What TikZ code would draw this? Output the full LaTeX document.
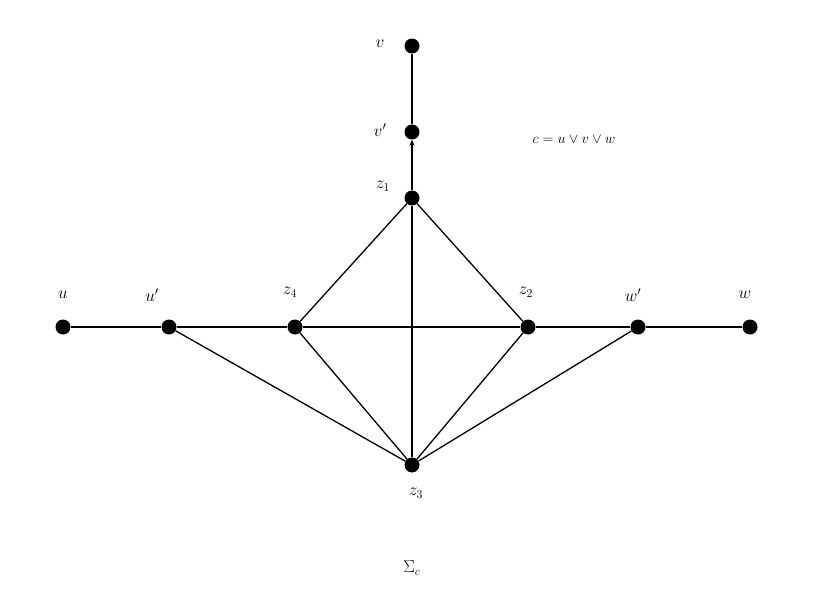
\documentclass[tikz,border=0pt]{standalone}
\usepackage{fontspec}
\setmainfont{Liberation Serif}
\usetikzlibrary{arrows.meta}
\begin{document}
\begin{tikzpicture}[x=1pt,y=-1pt,
  dot/.style={circle,fill=black,inner sep=0pt,minimum size=15pt},
  lab/.style={font=\fontsize{18}{20}\selectfont},
  edge/.style={line width=1.3pt}]
\useasboundingbox (0,0) rectangle (839,607);
\node[dot] (v) at (412,46) {};
\node[dot] (vp) at (412,132) {};
\node[dot] (z1) at (412,198) {};
\node[dot] (u) at (63,327) {};
\node[dot] (up) at (169,327) {};
\node[dot] (z4) at (295,327) {};
\node[dot] (z2) at (528,327) {};
\node[dot] (wp) at (638,327) {};
\node[dot] (w) at (750,327) {};
\node[dot] (z3) at (412,465) {};
\node[lab] (lv) at (380,44) {$v$};
\node[lab] (lvp) at (380,130) {$v'$};
\node[lab] (lz1) at (383,186) {$z_1$};
\node[lab] (lu) at (63,295) {$u$};
\node[lab] (lup) at (152,295) {$u'$};
\node[lab] (lz4) at (290,292) {$z_4$};
\node[lab] (lz2) at (526,292) {$z_2$};
\node[lab] (lwp) at (633,295) {$w'$};
\node[lab] (lw) at (745,295) {$w$};
\node[lab] (lz3) at (416,493) {$z_3$};
\node[lab] (sig) at (412,568) {$\Sigma_c$};
\node[font=\fontsize{15}{17}\selectfont] (c) at (574,140) {$c = u \vee v \vee w$};
\draw[edge] (v) -- (vp);
\draw[edge,-{Stealth[length=6pt,width=5pt]}] (z1) -- (vp);
\draw[edge] (u) -- (up) -- (z4) -- (z2) -- (wp) -- (w);
\draw[edge] (z1) -- (z4);
\draw[edge] (z1) -- (z2);
\draw[edge] (z1) -- (z3);
\draw[edge] (up) -- (z3);
\draw[edge] (z4) -- (z3);
\draw[edge] (z2) -- (z3);
\draw[edge] (wp) -- (z3);
\end{tikzpicture}
\end{document}
